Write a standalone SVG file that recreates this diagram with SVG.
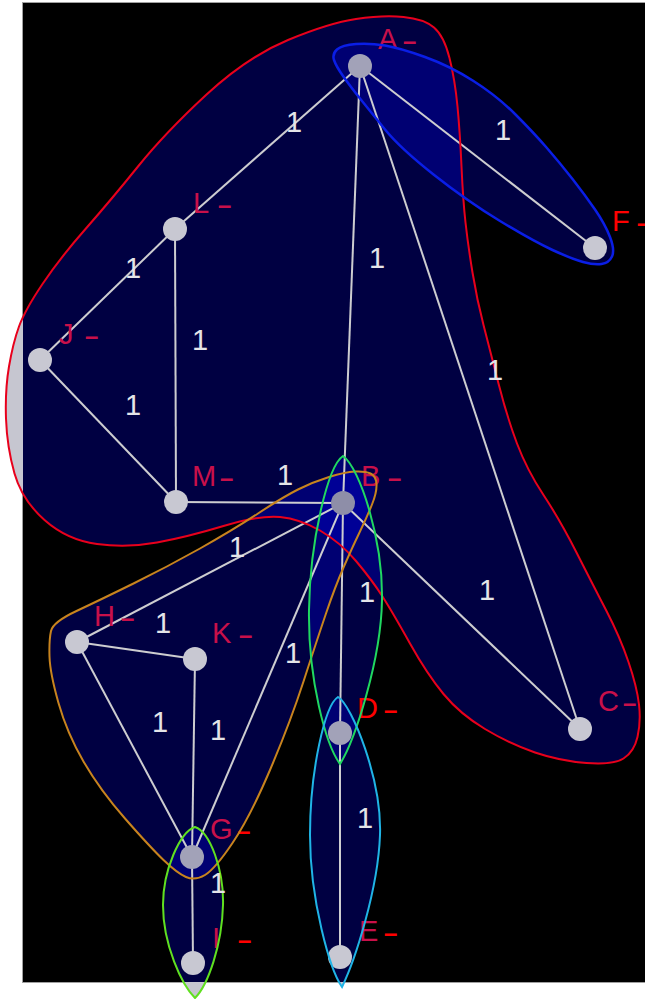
<svg xmlns="http://www.w3.org/2000/svg" width="645" height="999" viewBox="0 0 645 999">
<style>
.hf{fill:#0000ff;fill-opacity:0.26}
.hg{fill:#c6c6d0}
.ho{fill:none;stroke-width:2}
.e{stroke:#cdcdd0;stroke-width:2;fill:none}
.n{fill:#c8c8d2}
.n2{fill:#a2a2b8}
.n3{fill:#8e8ea8}
.lb{font-family:"Liberation Sans",Arial,sans-serif;font-size:29px;fill:#c8104a}
.d{font-size:24px;font-weight:bold}
.r{fill:#ff0000}
.el{font-family:"Liberation Sans",Arial,sans-serif;font-size:29px;fill:#e4e4e8;text-anchor:middle}
</style>
<defs>
<clipPath id="cin"><rect x="23" y="2" width="622" height="980"/></clipPath>
<clipPath id="cout"><path clip-rule="evenodd" d="M0,0H645V999H0Z M23,2V982H645V2Z"/></clipPath>
<path id="h-red" d="M356,19 Q383,15 403.5,17 Q424,19 434,27.5 Q444,36 449.5,58 Q455,80 457.5,106.5 Q460,133 461.5,166.5 Q463,200 465.5,222.5 Q468,245 472.5,272.5 Q477,300 483.5,325 Q490,350 498.5,383.5 Q507,417 517,443.5 Q527,470 543.5,495 Q560,520 576.5,552.5 Q593,585 606.5,611 Q620,637 628.5,662 Q637,687 639,704.5 Q641,722 637.5,737 Q634,752 623.5,758.5 Q613,765 586.5,763 Q560,761 535,752.5 Q510,744 485,729 Q460,714 443.5,694 Q427,674 410,643.5 Q393,613 382.5,596.5 Q372,580 356,561 Q340,542 320,530.5 Q300,519 280,517 Q260,515 223.5,526 Q187,537 157,542.5 Q127,548 97,544 Q67,540 44.5,520 Q22,500 14.5,473.5 Q7,447 6,418.5 Q5,390 9,366.5 Q13,343 19,326.5 Q25,310 42.5,284 Q60,258 85.5,229 Q111,200 138,166.5 Q165,133 206,95 Q247,57 288,40 Q329,23 356,19 Z"/>
<path id="h-blue" d="M334,60 Q332,54 337,49.5 Q342,45 356,44 Q370,43 385,45.5 Q400,48 425,57 Q450,66 473.5,81 Q497,96 515,114 Q533,132 546.5,147.5 Q560,163 572.5,179 Q585,195 595,209.5 Q605,224 610,237 Q615,250 612,256.5 Q609,263 601.5,264 Q594,265 583,262 Q572,259 552.5,250 Q533,241 500,221 Q467,201 433.5,174.5 Q400,148 385,129.5 Q370,111 360,98.5 Q350,86 343,76 Q336,66 334,60 Z"/>
<path id="h-orange" d="M376.5,484 Q376,476 370.5,473.5 Q365,471 355,471.5 Q345,472 329,477 Q313,482 298,489.5 Q283,497 258,513.5 Q233,530 200,548.5 Q167,567 133.5,583.5 Q100,600 76.5,611 Q53,622 51,631 Q49,640 49.5,656.5 Q50,673 58.5,703 Q67,733 83.5,761.5 Q100,790 125,818.5 Q150,847 163.5,860 Q177,873 186,877 Q195,881 205,875 Q215,869 232.5,843 Q250,817 270,770 Q290,723 303.5,681.5 Q317,640 326,613.5 Q335,587 343.5,567.5 Q352,548 359.5,532.5 Q367,517 372,504.5 Q377,492 376.5,484 Z"/>
<path id="h-green" d="M343,456 C360,468 383,540 382,600 C381,660 355,740 340,764 C326,745 308,680 309,610 C310,540 328,466 343,456 Z"/>
<path id="h-cyan" d="M338,697 C352,705 382,780 380,835 C378,890 355,960 342,987 C330,970 310,900 310,835 C310,770 325,705 338,697 Z"/>
<path id="h-lime" d="M195,827 C210,832 224,870 223,905 C222,945 208,985 195,998 C182,985 163,945 163,905 C163,870 180,832 195,827 Z"/>
</defs>
<rect x="22.5" y="2.5" width="623" height="980" fill="#000000" stroke="#a0a0a0" stroke-width="1"/>
<g id="cluster-fills">
<g clip-path="url(#cin)" class="hf">
<use href="#h-red"/><use href="#h-blue"/><use href="#h-orange"/><use href="#h-green"/><use href="#h-cyan"/><use href="#h-lime"/>
</g>
<g clip-path="url(#cout)" class="hg">
<use href="#h-red"/><use href="#h-cyan"/><use href="#h-lime"/>
</g>
</g>
<g id="connectors" class="e">
<line x1="360" y1="66" x2="175" y2="229"/>
<line x1="360" y1="66" x2="595" y2="248"/>
<line x1="360" y1="66" x2="343" y2="503"/>
<line x1="360" y1="66" x2="580" y2="729"/>
<line x1="175" y1="229" x2="40" y2="360"/>
<line x1="175" y1="229" x2="176" y2="502"/>
<line x1="40" y1="360" x2="176" y2="502"/>
<line x1="176" y1="502" x2="343" y2="503"/>
<line x1="343" y1="503" x2="77" y2="642"/>
<line x1="343" y1="503" x2="580" y2="729"/>
<line x1="343" y1="503" x2="340" y2="733"/>
<line x1="343" y1="503" x2="192" y2="857"/>
<line x1="77" y1="642" x2="195" y2="659"/>
<line x1="77" y1="642" x2="192" y2="857"/>
<line x1="195" y1="659" x2="192" y2="857"/>
<line x1="192" y1="857" x2="193" y2="963"/>
<line x1="340" y1="733" x2="340" y2="957"/>
</g>
<g id="node-A"><circle class="n2" cx="360" cy="66" r="12"/><text class="lb" x="378" y="49">A<tspan class="d" x="403">–</tspan></text></g>
<g id="node-F"><circle class="n" cx="595" cy="248" r="12"/><text class="lb r" x="612" y="231">F<tspan class="d" x="637">–</tspan></text></g>
<g id="node-L"><circle class="n" cx="175" cy="229" r="12"/><text class="lb" x="193" y="213">L<tspan class="d" x="218">–</tspan></text></g>
<g id="node-J"><circle class="n" cx="40" cy="360" r="12"/><text class="lb" x="59" y="344">J<tspan class="d" x="85">–</tspan></text></g>
<g id="node-M"><circle class="n" cx="176" cy="502" r="12"/><text class="lb" x="192" y="486">M<tspan class="d" x="220">–</tspan></text></g>
<g id="node-B"><circle class="n3" cx="343" cy="503" r="12"/><text class="lb" x="361" y="486">B<tspan class="d" x="388">–</tspan></text></g>
<g id="node-H"><circle class="n" cx="77" cy="642" r="12"/><text class="lb" x="94" y="626">H<tspan class="d" x="121">–</tspan></text></g>
<g id="node-K"><circle class="n" cx="195" cy="659" r="12"/><text class="lb" x="212" y="643">K<tspan class="d" x="239">–</tspan></text></g>
<g id="node-G"><circle class="n2" cx="192" cy="857" r="12"/><text class="lb" x="210" y="839">G<tspan class="d r" x="237">–</tspan></text></g>
<g id="node-I"><circle class="n" cx="193" cy="963" r="12"/><text class="lb" x="212" y="948">I<tspan class="d r" x="238">–</tspan></text></g>
<g id="node-D"><circle class="n2" cx="340" cy="733" r="12"/><text class="lb r" x="357" y="718">D<tspan class="d" x="384">–</tspan></text></g>
<g id="node-E"><circle class="n" cx="340" cy="957" r="12"/><text class="lb" x="359" y="941">E<tspan class="d r" x="384">–</tspan></text></g>
<g id="node-C"><circle class="n" cx="580" cy="729" r="12"/><text class="lb" x="598" y="711">C<tspan class="d" x="623">–</tspan></text></g>
<g id="cluster-outlines" class="ho">
<use href="#h-red" stroke="#e8001c"/>
<use href="#h-blue" stroke="#0a1ee6" stroke-width="2.5"/>
<use href="#h-orange" stroke="#c8841e"/>
<use href="#h-green" stroke="#20d860"/>
<use href="#h-cyan" stroke="#20b4e6"/>
<use href="#h-lime" stroke="#60e020"/>
</g>
<g id="edge-labels" class="el">
<text x="294" y="132">1</text>
<text x="503" y="140">1</text>
<text x="377" y="268">1</text>
<text x="495" y="380">1</text>
<text x="133" y="278">1</text>
<text x="200" y="350">1</text>
<text x="133" y="415">1</text>
<text x="285" y="485">1</text>
<text x="237" y="557">1</text>
<text x="487" y="600">1</text>
<text x="367" y="602">1</text>
<text x="293" y="663">1</text>
<text x="163" y="633">1</text>
<text x="160" y="732">1</text>
<text x="218" y="740">1</text>
<text x="218" y="893">1</text>
<text x="365" y="828">1</text>
</g>
</svg>
